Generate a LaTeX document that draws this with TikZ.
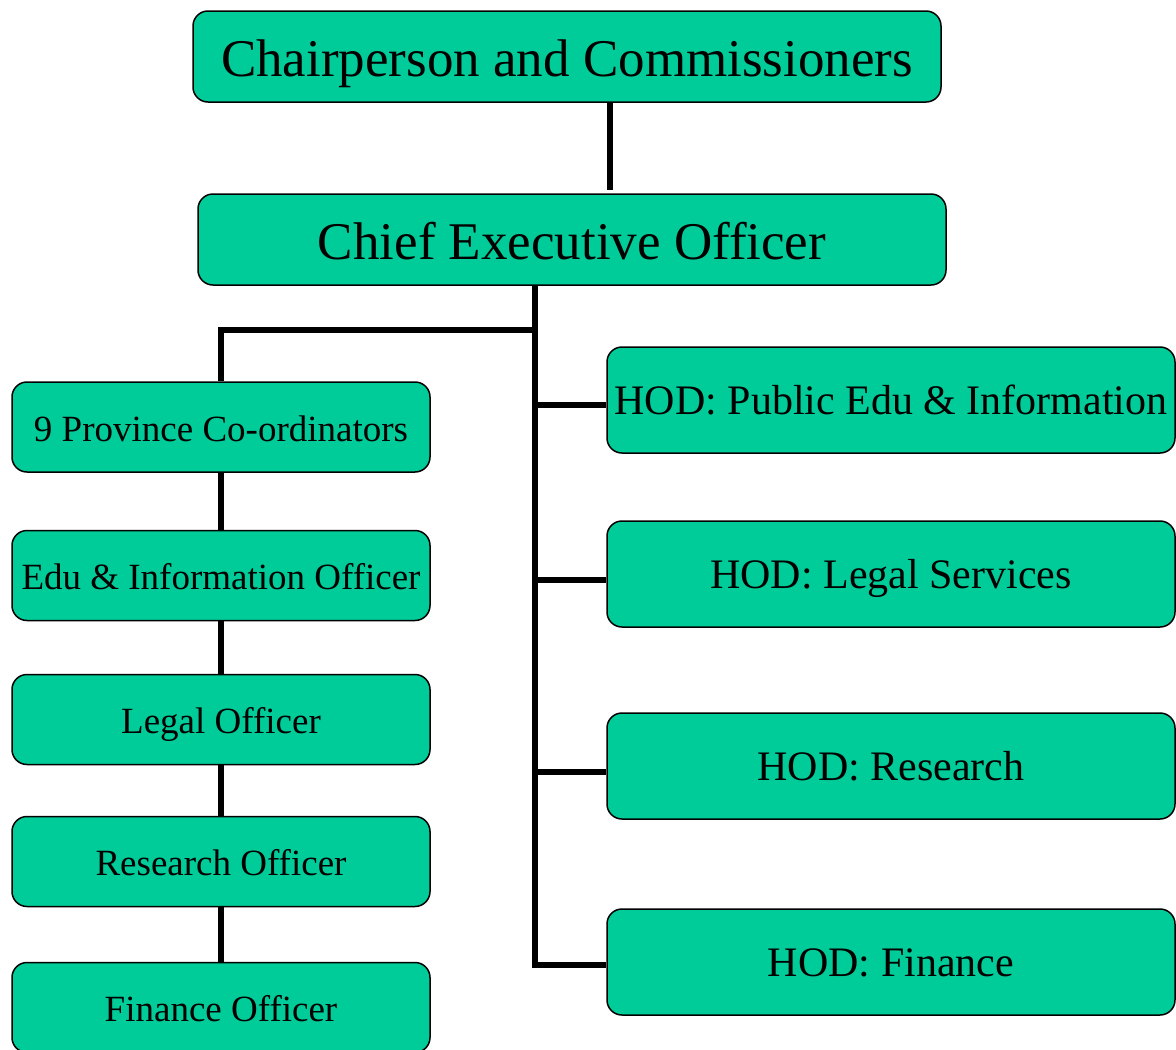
\documentclass[tikz,border=0pt]{standalone}
\usepackage{fontspec}
\setmainfont{Liberation Serif}
\definecolor{boxgreen}{RGB}{0,204,153}
\tikzset{
  box/.style={draw=black, line width=1.5pt, fill=boxgreen, rounded corners=15pt, inner sep=0pt, align=center, text depth=0pt},
  bigbox/.style={box, minimum width=748pt, minimum height=91pt, text height=39pt, font=\fontsize{53}{60}\selectfont},
  leftbox/.style={box, minimum width=418pt, minimum height=90pt, text height=28pt, font=\fontsize{37}{42}\selectfont},
  rightbox/.style={box, minimum width=568pt, minimum height=106pt, text height=28pt, font=\fontsize{42}{48}\selectfont},
  conn/.style={draw=black, line width=6.5pt}
}
\begin{document}
\begin{tikzpicture}[x=1pt,y=-1pt]
\useasboundingbox (0,0) rectangle (1176,1050);
% top boxes
\node[bigbox] (chair) at (567,56.5) {Chairperson and Commissioners};
\node[bigbox] (ceo) at (572,239.5) {Chief Executive Officer};
% left column
\node[leftbox] (prov) at (221,427) {9 Province Co-ordinators};
\node[leftbox] (edu) at (221,575.5) {Edu \& Information Officer};
\node[leftbox] (legal) at (221,719.5) {Legal Officer};
\node[leftbox] (res) at (221,861.5) {Research Officer};
\node[leftbox] (fin) at (221,1007.5) {Finance Officer};
% right column
\node[rightbox] (hodpub) at (891,400) {HOD: Public Edu \& Information};
\node[rightbox] (hodlegal) at (891,574) {HOD: Legal Services};
\node[rightbox] (hodres) at (891,766) {HOD: Research};
\node[rightbox] (hodfin) at (891,962) {HOD: Finance};
% connectors
\coordinate (tk) at ([xshift=-37pt]ceo.south);
\coordinate (lj) at (535,330);
\draw[conn] ([xshift=43pt]chair.south) -- ([xshift=38pt,yshift=3pt]ceo.north);
\draw[conn] (tk) |- ([yshift=-3pt]hodfin.west);
\draw[conn] (lj) -| (prov.north);
\draw[conn] ([yshift=-5pt]hodpub.west) -- ([yshift=-5pt]hodpub.west -| tk);
\draw[conn] ([yshift=-6pt]hodlegal.west) -- ([yshift=-6pt]hodlegal.west -| tk);
\draw[conn] ([yshift=-6pt]hodres.west) -- ([yshift=-6pt]hodres.west -| tk);
\draw[conn] (prov.south) -- (edu.north);
\draw[conn] (edu.south) -- (legal.north);
\draw[conn] (legal.south) -- (res.north);
\draw[conn] (res.south) -- (fin.north);
\end{tikzpicture}
\end{document}
